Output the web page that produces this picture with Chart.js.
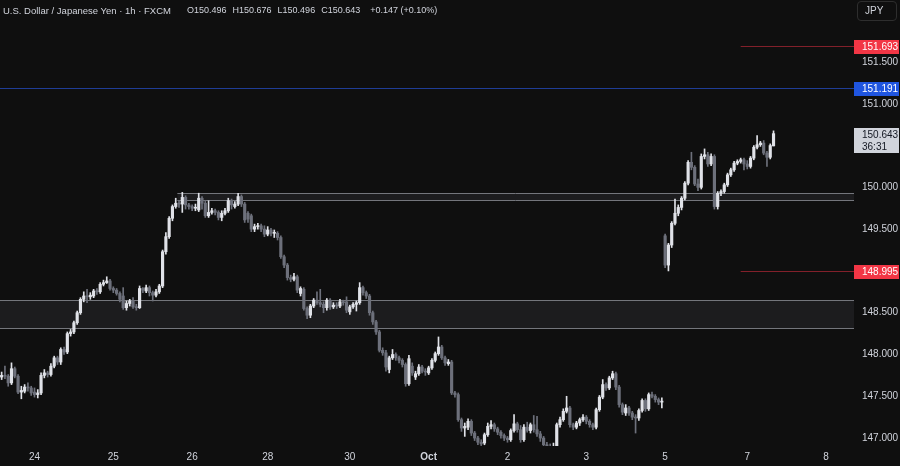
<!DOCTYPE html>
<html>
<head>
<meta charset="utf-8">
<script src="https://cdn.jsdelivr.net/npm/chart.js@4.4.0/dist/chart.umd.min.js"></script>
<style>
  html, body { margin: 0; padding: 0; background: #0f0f0f; }
  #wrap { position: relative; width: 900px; height: 466px; }
  #hdr { position: absolute; left: 3px; top: 5px; font: 9.5px "Liberation Sans", Arial, sans-serif; color: #d1d4dc; white-space: nowrap; }
  #vals { position: absolute; left: 187px; top: 5px; font: 9px "Liberation Sans", Arial, sans-serif; color: #d1d4dc; white-space: nowrap; }
  #vals span { margin-right: 6px; }
  #vals span.chg { margin-left: 4px; margin-right: 0; }
  #ccy { position: absolute; left: 857px; top: 1px; width: 40px; height: 20px; box-sizing: border-box; border: 1px solid #2e2e2e; border-radius: 4px;
         font: 10px "Liberation Sans", Arial, sans-serif; color: #d1d4dc; line-height: 18px; padding-left: 7px; }
</style>
</head>
<body>
<div id="wrap">
  <canvas id="chart" width="900" height="466"></canvas>
  <div id="hdr">U.S. Dollar / Japanese Yen · 1h · FXCM</div>
  <div id="vals"><span>O150.496</span><span>H150.676</span><span>L150.496</span><span>C150.643</span><span class="chg">+0.147 (+0.10%)</span></div>
  <div id="ccy">JPY</div>
</div>
<script>
// hourly candles, one entry per bar
const opens = [
  147.73,147.75,147.74,147.66,147.83,147.74,147.55,147.56,147.61,147.60,147.55,147.52,147.54,147.75,147.78,147.76,147.86,147.96,147.91,148.06,
  148.03,148.25,148.27,148.38,148.50,148.66,148.70,148.69,148.70,148.76,148.75,148.84,148.86,148.88,148.79,148.77,148.73,148.70,148.56,148.61,
  148.64,148.57,148.56,148.79,148.76,148.80,148.74,148.71,148.75,148.82,149.23,149.41,149.63,149.77,149.81,149.80,149.88,149.79,149.77,149.75,
  149.73,149.87,149.81,149.66,149.70,149.72,149.70,149.64,149.69,149.72,149.84,149.77,149.80,149.89,149.80,149.69,149.66,149.50,149.53,149.54,
  149.50,149.44,149.49,149.45,149.45,149.40,149.17,149.07,148.92,148.90,148.93,148.73,148.78,148.55,148.47,148.58,148.65,148.62,148.60,148.56,
  148.65,148.57,148.59,148.58,148.63,148.63,148.51,148.57,148.60,148.62,148.80,148.74,148.70,148.50,148.39,148.27,148.05,148.02,147.82,147.96,
  148.00,147.96,147.93,147.88,147.65,147.86,147.73,147.77,147.85,147.80,147.78,147.84,147.93,148.01,148.09,147.96,147.89,147.91,147.54,147.52,
  147.22,147.12,147.13,147.20,147.06,147.00,146.95,146.94,147.04,147.14,147.16,147.11,147.07,147.03,147.00,146.98,147.09,147.17,147.10,146.98,
  147.13,147.09,147.16,147.10,147.05,147.00,146.92,146.88,146.86,146.90,147.16,147.22,147.32,147.36,147.16,147.13,147.18,147.22,147.25,147.20,
  147.16,147.13,147.34,147.49,147.64,147.60,147.72,147.77,147.61,147.40,147.30,147.36,147.30,147.25,147.24,147.33,147.45,147.35,147.52,147.50,
  147.46,147.43,149.42,149.07,149.31,149.57,149.69,149.76,149.87,150.05,150.30,150.24,150.04,150.00,150.37,150.39,150.28,150.37,149.77,149.93,
  149.95,150.03,150.15,150.21,150.29,150.31,150.33,150.28,150.25,150.35,150.48,150.51,150.53,150.41,150.36,150.496
];
const highs = [
  147.79,147.86,147.76,147.90,147.85,147.76,147.62,147.64,147.66,147.62,147.60,147.58,147.78,147.82,147.80,147.89,147.98,147.98,148.08,148.09,
  148.27,148.30,148.40,148.52,148.68,148.75,148.78,148.74,148.78,148.79,148.86,148.89,148.93,148.90,148.81,148.79,148.75,148.80,148.64,148.66,
  148.68,148.60,148.82,148.80,148.83,148.82,148.76,148.78,148.84,149.25,149.46,149.65,149.79,149.87,149.84,149.94,149.90,149.81,149.79,149.80,
  149.93,149.89,149.84,149.84,149.75,149.74,149.72,149.72,149.75,149.87,149.86,149.83,149.93,149.91,149.82,149.71,149.68,149.56,149.57,149.56,
  149.54,149.53,149.51,149.49,149.47,149.42,149.19,149.09,148.95,148.97,148.95,148.81,148.80,148.57,148.60,148.67,148.75,148.78,148.63,148.67,
  148.67,148.62,148.62,148.66,148.65,148.69,148.59,148.62,148.64,148.86,148.82,148.76,148.72,148.52,148.41,148.29,148.08,148.05,147.98,148.06,
  148.02,147.98,147.95,147.90,147.99,147.90,147.80,147.88,147.87,147.83,147.86,147.95,148.03,148.21,148.11,147.98,147.94,147.93,147.56,147.54,
  147.24,147.18,147.23,147.22,147.08,147.02,146.98,147.06,147.18,147.21,147.18,147.13,147.09,147.05,147.02,147.11,147.28,147.19,147.15,147.16,
  147.19,147.18,147.27,147.26,147.08,147.02,146.95,146.93,146.94,147.18,147.25,147.35,147.50,147.38,147.18,147.20,147.24,147.28,147.27,147.22,
  147.18,147.36,147.51,147.70,147.66,147.74,147.80,147.79,147.63,147.42,147.40,147.38,147.32,147.28,147.35,147.47,147.47,147.54,147.55,147.52,
  147.48,147.48,149.44,149.33,149.59,149.86,149.79,149.89,150.07,150.32,150.42,150.26,150.10,150.40,150.46,150.42,150.40,150.39,149.95,149.97,
  150.05,150.17,150.23,150.31,150.33,150.35,150.35,150.32,150.37,150.50,150.62,150.55,150.56,150.43,150.52,150.676
];
const lows = [
  147.70,147.71,147.62,147.64,147.72,147.53,147.47,147.54,147.56,147.51,147.49,147.48,147.52,147.72,147.73,147.74,147.84,147.88,147.88,148.00,
  148.01,148.22,148.25,148.36,148.48,148.63,148.62,148.66,148.68,148.72,148.73,148.82,148.85,148.77,148.74,148.71,148.63,148.54,148.53,148.58,
  148.55,148.53,148.55,148.74,148.74,148.70,148.64,148.69,148.73,148.80,149.20,149.39,149.60,149.75,149.76,149.70,149.74,149.74,149.72,149.72,
  149.71,149.74,149.64,149.64,149.68,149.67,149.61,149.60,149.67,149.70,149.74,149.75,149.78,149.77,149.58,149.58,149.47,149.47,149.50,149.47,
  149.41,149.42,149.42,149.40,149.37,149.15,149.04,148.89,148.87,148.88,148.74,148.70,148.53,148.43,148.44,148.56,148.60,148.57,148.50,148.53,
  148.54,148.55,148.55,148.56,148.59,148.50,148.48,148.55,148.52,148.60,148.71,148.67,148.47,148.36,148.24,148.03,147.99,147.80,147.78,147.94,
  147.93,147.90,147.85,147.62,147.63,147.75,147.70,147.75,147.78,147.75,147.76,147.82,147.91,147.99,147.94,147.87,147.87,147.52,147.49,147.20,
  147.08,147.02,147.10,147.03,146.97,146.92,146.91,146.92,147.02,147.11,147.08,147.04,147.00,146.97,146.95,146.96,147.07,147.07,146.95,146.96,
  147.07,147.06,147.07,147.02,146.96,146.88,146.84,146.82,146.83,146.88,147.13,147.20,147.30,147.13,147.10,147.11,147.15,147.20,147.17,147.13,
  147.10,147.11,147.32,147.47,147.57,147.58,147.70,147.58,147.37,147.28,147.27,147.27,147.22,147.06,147.21,147.31,147.32,147.33,147.48,147.43,
  147.40,147.36,149.04,149.00,149.28,149.55,149.66,149.73,149.85,150.03,150.21,150.02,149.96,149.98,150.34,150.25,150.26,149.74,149.74,149.90,
  149.93,150.01,150.13,150.19,150.27,150.29,150.21,150.22,150.23,150.33,150.46,150.49,150.39,150.25,150.34,150.496
];
const closes = [
  147.75,147.74,147.66,147.83,147.74,147.55,147.57,147.61,147.60,147.54,147.52,147.54,147.75,147.78,147.76,147.86,147.96,147.91,148.06,148.03,
  148.25,148.27,148.38,148.50,148.66,148.70,148.69,148.71,148.76,148.75,148.84,148.86,148.88,148.79,148.77,148.73,148.66,148.56,148.61,148.64,
  148.57,148.56,148.79,148.77,148.80,148.74,148.71,148.75,148.82,149.23,149.41,149.63,149.77,149.81,149.80,149.88,149.79,149.77,149.75,149.76,
  149.87,149.81,149.66,149.70,149.72,149.70,149.64,149.69,149.72,149.84,149.79,149.80,149.89,149.80,149.61,149.62,149.50,149.53,149.54,149.50,
  149.44,149.49,149.45,149.46,149.40,149.17,149.07,148.92,148.90,148.93,148.77,148.79,148.55,148.47,148.58,148.65,148.62,148.60,148.56,148.65,
  148.57,148.59,148.58,148.63,148.62,148.53,148.57,148.60,148.62,148.80,148.74,148.70,148.50,148.39,148.27,148.05,148.02,147.85,147.96,148.00,
  147.96,147.93,147.88,147.65,147.95,147.78,147.77,147.85,147.80,147.79,147.84,147.93,148.01,148.09,147.96,147.90,147.91,147.54,147.52,147.22,
  147.12,147.14,147.20,147.06,147.00,146.95,146.93,147.04,147.14,147.16,147.11,147.07,147.03,147.00,146.98,147.09,147.17,147.10,146.98,147.13,
  147.09,147.16,147.10,147.05,147.00,146.92,146.88,146.86,146.90,147.16,147.22,147.32,147.36,147.16,147.13,147.18,147.22,147.25,147.20,147.16,
  147.13,147.34,147.49,147.64,147.60,147.72,147.77,147.61,147.40,147.31,147.36,147.30,147.25,147.24,147.33,147.45,147.35,147.52,147.50,147.46,
  147.43,147.44,149.07,149.31,149.57,149.69,149.76,149.87,150.05,150.30,150.24,150.04,150.00,150.37,150.39,150.28,150.37,149.77,149.93,149.95,
  150.03,150.15,150.21,150.29,150.31,150.33,150.28,150.25,150.35,150.48,150.51,150.53,150.41,150.36,150.50,150.643
];

// time axis: bar slots (incl. empty space on the right) and day labels
const slotCount = 260;
const dayTickIdx = [10, 34, 58, 81, 106, 130, 154, 178, 202, 227, 251];
const dayTickText = ['24', '25', '26', '28', '30', 'Oct', '2', '3', '5', '7', '8'];
const priceTicks = [147.0, 147.5, 148.0, 148.5, 149.0, 149.5, 150.0, 150.5, 151.0, 151.5];

// drawings
const blueLevel = 151.191;
const redLevels = [151.693, 148.995];
const redFromIdx = 225;
const zones = [
  { fromIdx: 0, top: 148.652, bottom: 148.315 },
  { fromIdx: 54, top: 149.935, bottom: 149.845 }
];
const lastPrice = 150.643;
const countdown = '36:31';

const UP = '#e0e2e8';
const DOWN = '#6d707b';
const FONT = '"Liberation Sans", Arial, sans-serif';

const candleColors = closes.map((c, i) => c >= opens[i] ? UP : DOWN);

const overlays = {
  id: 'overlays',
  beforeDatasetsDraw(chart) {
    const { ctx, chartArea: a, scales: { x, y } } = chart;
    const half = (a.right - a.left) / slotCount / 2;
    ctx.save();
    zones.forEach(z => {
      const x0 = z.fromIdx === 0 ? a.left : x.getPixelForValue(z.fromIdx) - half;
      const yt = Math.round(y.getPixelForValue(z.top)) + 0.5;
      const yb = Math.round(y.getPixelForValue(z.bottom)) + 0.5;
      ctx.fillStyle = '#1c1c1e';
      ctx.fillRect(x0, yt, a.right - x0, yb - yt);
      ctx.strokeStyle = '#74767c';
      ctx.lineWidth = 1;
      ctx.beginPath();
      ctx.moveTo(x0, yt); ctx.lineTo(a.right, yt);
      ctx.moveTo(x0, yb); ctx.lineTo(a.right, yb);
      ctx.stroke();
    });
    // blue horizontal line
    const by = Math.round(y.getPixelForValue(blueLevel)) + 0.5;
    ctx.strokeStyle = '#1f3d96';
    ctx.beginPath(); ctx.moveTo(a.left, by); ctx.lineTo(a.right, by); ctx.stroke();
    // red short lines
    ctx.strokeStyle = '#82202a';
    const rx = x.getPixelForValue(redFromIdx);
    redLevels.forEach(v => {
      const ry = Math.round(y.getPixelForValue(v)) + 0.5;
      ctx.beginPath(); ctx.moveTo(rx, ry); ctx.lineTo(a.right, ry); ctx.stroke();
    });
    ctx.restore();
  },
  afterDraw(chart) {
    const { ctx, chartArea: a, scales: { y } } = chart;
    const w = chart.width;
    ctx.save();
    ctx.font = '10px ' + FONT;
    ctx.textBaseline = 'middle';
    const tag = (v, bg, fg) => {
      const py = Math.round(y.getPixelForValue(v));
      ctx.fillStyle = bg;
      ctx.fillRect(a.right, py - 6, w - a.right - 1, 14);
      ctx.fillStyle = fg;
      ctx.fillText(v.toFixed(3), a.right + 8, py + 1);
    };
    redLevels.forEach(v => tag(v, '#f23645', '#ffffff'));
    tag(blueLevel, '#1f55e0', '#ffffff');
    // last price with countdown
    const ly = Math.round(y.getPixelForValue(lastPrice));
    ctx.fillStyle = '#d1d4dc';
    ctx.fillRect(a.right, ly - 6, w - a.right - 1, 25);
    ctx.fillStyle = '#131722';
    ctx.fillText(lastPrice.toFixed(3), a.right + 8, ly + 1.5);
    ctx.fillText(countdown, a.right + 8, ly + 13);
    ctx.restore();
  }
};

new Chart(document.getElementById('chart'), {
  type: 'bar',
  data: {
    labels: Array.from({ length: slotCount }, (_, i) => i),
    datasets: [
      {
        label: 'body',
        data: opens.map((o, i) => [o, closes[i]]),
        backgroundColor: candleColors,
        barThickness: 2.5,
        minBarLength: 1,
        grouped: false,
        order: 0
      },
      {
        label: 'wick',
        data: lows.map((l, i) => [l, highs[i]]),
        backgroundColor: candleColors,
        barThickness: 1,
        grouped: false,
        order: 1
      }
    ]
  },
  options: {
    responsive: false,
    animation: false,
    layout: { padding: 0 },
    plugins: { legend: { display: false }, tooltip: { enabled: false } },
    scales: {
      x: {
        grid: { display: false, drawTicks: false },
        border: { display: false },
        afterBuildTicks: s => { s.ticks = dayTickIdx.map(v => ({ value: v })); },
        afterFit: s => { s.height = 20; s.paddingLeft = 0; s.paddingRight = 0; },
        ticks: {
          autoSkip: false,
          maxRotation: 0,
          padding: 5,
          color: '#d1d4dc',
          font: c => ({ family: FONT, size: 10, weight: c.tick && c.tick.label === 'Oct' ? 'bold' : 'normal' }),
          callback: (v, i) => dayTickText[i]
        }
      },
      y: {
        position: 'right',
        min: 146.905,
        max: 152.242,
        grid: { display: false, drawTicks: false },
        border: { display: false },
        afterBuildTicks: s => { s.ticks = priceTicks.map(v => ({ value: v })); },
        afterFit: s => { s.width = 46; s.paddingTop = 0; s.paddingBottom = 0; },
        ticks: {
          padding: 8,
          color: '#d1d4dc',
          font: { family: FONT, size: 10 },
          callback: v => Number(v).toFixed(3)
        }
      }
    }
  },
  plugins: [overlays]
});
</script>
</body>
</html>
